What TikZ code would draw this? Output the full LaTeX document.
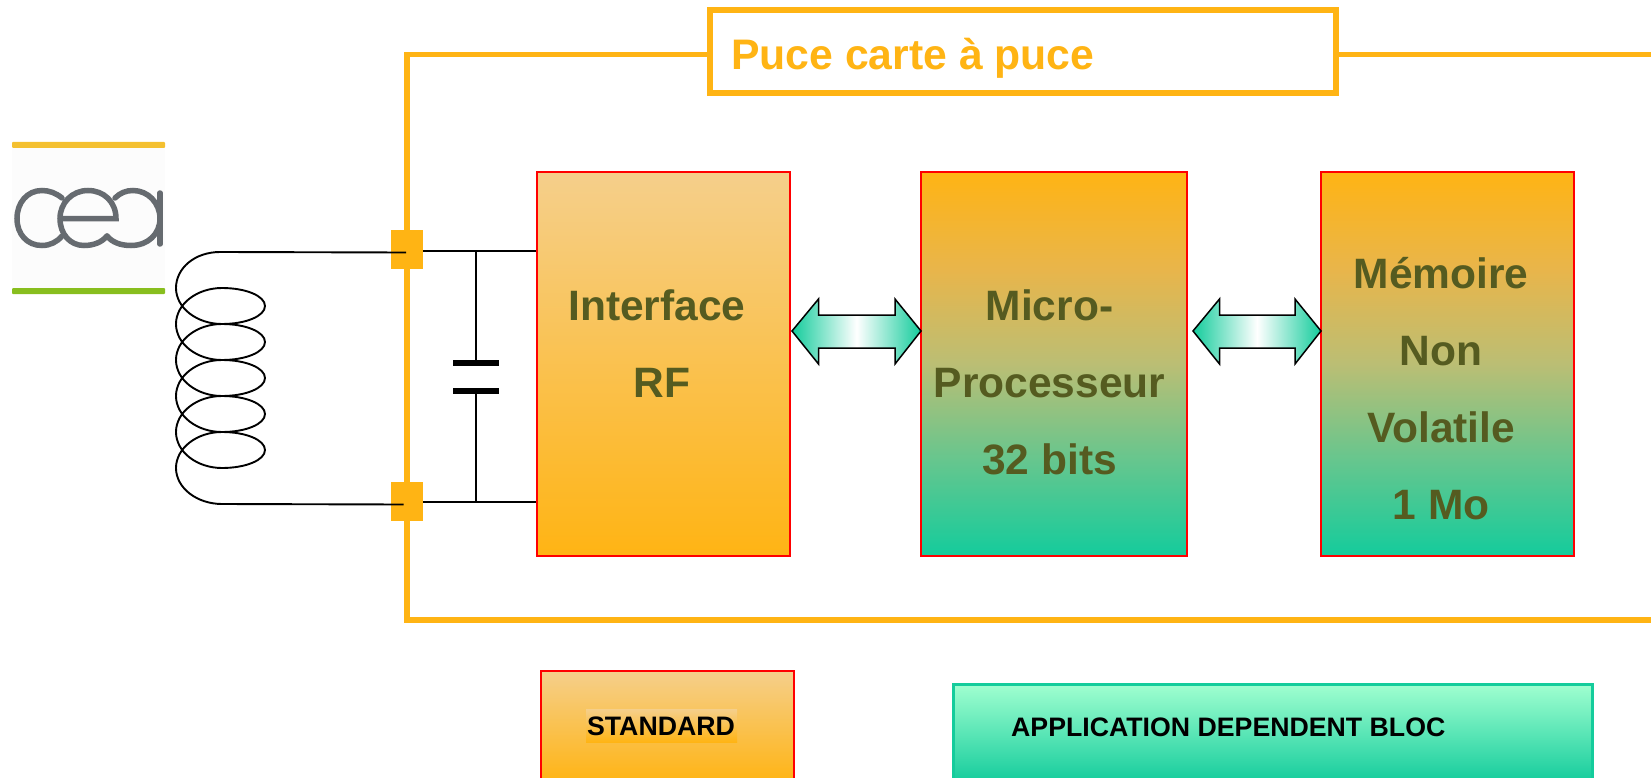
\documentclass[tikz,border=0pt]{standalone}
\usepackage{fontspec}
\setmainfont{Liberation Sans}
\definecolor{puce}{HTML}{FFB414}
\definecolor{olive}{HTML}{555B20}
\definecolor{pale}{HTML}{F5CF8B}
\definecolor{teal}{HTML}{14CC9C}
\definecolor{mint}{HTML}{A0FFD0}
\definecolor{ceagrey}{HTML}{666B70}
\definecolor{ceayellow}{HTML}{F4C030}
\definecolor{ceagreen}{HTML}{88BE1E}
\definecolor{gradA}{HTML}{E9B54A}
\definecolor{gradB}{HTML}{BBBE74}
\definecolor{gradC}{HTML}{66C68E}
\pgfdeclareverticalshading{chipgrad}{100bp}{color(0bp)=(teal); color(25bp)=(teal); color(37.5bp)=(gradC); color(50bp)=(gradB); color(62.5bp)=(gradA); color(75bp)=(puce); color(100bp)=(puce)}
\tikzset{
  x=1pt,y=-1pt,
  stdblock/.style={draw=red,line width=2pt,rectangle,inner sep=0pt,top color=pale,bottom color=puce},
  appblock/.style={draw=red,line width=2pt,rectangle,inner sep=0pt,shade,shading=chipgrad},
  blocktext/.style={text=olive,font=\bfseries\fontsize{42.5}{77}\selectfont,align=center,inner sep=0pt},
  legendtext/.style={text=black,font=\bfseries\fontsize{26.7}{32}\selectfont,inner sep=0pt},
  pad/.style={fill=puce,rectangle,inner sep=0pt,minimum width=32pt,minimum height=39pt},
  wire/.style={draw=black,line width=1.5pt},
  coilwire/.style={draw=black,line width=1.9pt},
  frameline/.style={draw=puce,line width=5.5pt},
  busarrow/.style={draw=black,line width=1.5pt,line join=miter,left color=teal,right color=teal,middle color=white},
  logoline/.style={draw=ceagrey,line width=5.5pt,line cap=round}
}
\newcommand{\busarrowat}[2]{%
  \path[busarrow] (#1,331) -- (#1+26.5,299) -- (#1+26.5,315) -- (#2-26,315) -- (#2-26,299) -- (#2,331)
    -- (#2-26,364) -- (#2-26,348) -- (#1+26.5,348) -- (#1+26.5,364) -- cycle;}
\begin{document}
\begin{tikzpicture}
\useasboundingbox (0,0) rectangle (1651,778);
\clip (0,0) rectangle (1651,778);
% logo
\fill[black!1!white] (12,148) rectangle (165,288);
\fill[ceayellow,rounded corners=1pt] (12,142) rectangle (165,148);
\fill[ceagreen,rounded corners=1pt] (12,288) rectangle (165,294);
\draw[logoline] (62,198) .. controls (56,193) and (49,190.5) .. (42,190.5) .. controls (27,190.5) and (17,203) .. (17,218.5) .. controls (17,234) and (27,245.5) .. (42,245.5) .. controls (50,245.5) and (57,242) .. (62,236);
\draw[logoline] (60,218.5) -- (116,218.5) .. controls (116,202) and (104,190.5) .. (88,190.5) .. controls (72,190.5) and (60,203) .. (60,218.5) .. controls (60,234) and (70,245.5) .. (84,245.5) .. controls (94,245.5) and (102,242) .. (107,236);
\draw[logoline] (107,236) .. controls (112,242) and (120,245.5) .. (131,245.5) .. controls (148,245.5) and (160,234) .. (160,218.5) .. controls (160,203) and (148,190.5) .. (133,190.5) .. controls (126,190.5) and (120,193) .. (115,198);
\draw[logoline] (160,193) -- (160,244);
% chip frame and title
\draw[frameline] (1651,54.5) -- (407,54.5) -- (407,620) -- (1651,620);
\node[draw=puce,line width=6.5pt,fill=white,rectangle,inner sep=0pt,minimum width=626pt,minimum height=83pt] (title) at (1023,51.5) {};
\node[text=puce,font=\bfseries\fontsize{42.7}{50}\selectfont,inner sep=0pt,anchor=base west] (titletext) at (731,70) {Puce carte à puce};
% blocks
\node[stdblock,minimum width=253pt,minimum height=384pt] (rf) at (663.5,364) {};
\node[appblock,minimum width=266pt,minimum height=384pt] (cpu) at (1053.5,364) {};
\node[appblock,minimum width=253pt,minimum height=384pt] (mem) at (1447,364) {};
\node[blocktext] (rftexta) at (657,305) {Interface};
\node[blocktext] (rftextb) at (662,383) {RF};
\node[blocktext] (cputext) at (1049.5,382) {Micro-\\Processeur\\32 bits};
\node[blocktext] (memtext) at (1441,389) {Mémoire\\Non\\Volatile\\1 Mo};
% buses
\busarrowat{792}{921}
\busarrowat{1193}{1321}
% pads
\node[pad] (padtop) at (407,249.5) {};
\node[pad] (padbot) at (407,501.5) {};
% antenna coil
\coordinate (coiltop) at (220,252);
\coordinate (coilbot) at (220,504);
\coordinate (coilendtop) at (406,252.5);
\coordinate (coilendbot) at (403.5,504.5);
\draw[coilwire] (coilendtop) -- (coiltop)
  .. controls (195,252) and (176,268) .. (176,288) .. controls (176,308) and (197,324) .. (222,324)
  \foreach \b in {324,360,396,432,468}{
    .. controls (246,\b) and (265,\b-8) .. (265,\b-18) .. controls (265,\b-28) and (246,\b-36) .. (222,\b-36)
    .. controls (197,\b-36) and (176,\b-20) .. (176,\b) .. controls (176,\b+20) and (197,\b+36) .. (222,\b+36)
  } -- (coilbot) -- (coilendbot);
% capacitor and wires to RF block
\coordinate (nodetop) at (476,251);
\coordinate (nodebot) at (476,502);
\coordinate (plateA) at (476,361);
\coordinate (plateB) at (476,391);
\draw[wire] (padtop.east |- nodetop) -- (nodetop) -- (rf.west |- nodetop);
\draw[wire] (padbot.east |- nodebot) -- (nodebot) -- (rf.west |- nodebot);
\draw[wire] (nodetop) -- (plateA);
\draw[wire] (nodebot) -- (plateB);
\fill[black] (453,360) rectangle (498.5,366);
\fill[black] (453,388) rectangle (498.5,393.5);
% legend
\node[stdblock,minimum width=253pt,minimum height=112pt,anchor=north west] (legstd) at (540,669.5) {};
\node[rectangle,inner sep=0pt,minimum width=151pt,minimum height=33pt,top color=pale,bottom color=puce] (stdbg) at (661.5,725.5) {};
\node[legendtext] (stdtext) at (661,726) {STANDARD};
\node[draw=teal,line width=2.5pt,rectangle,inner sep=0pt,top color=mint,bottom color=teal,minimum width=639pt,minimum height=98pt,anchor=north west] (legapp) at (952,683) {};
\node[legendtext,anchor=west] (apptext) at (1011,727.5) {APPLICATION DEPENDENT BLOC};
\end{tikzpicture}
\end{document}
